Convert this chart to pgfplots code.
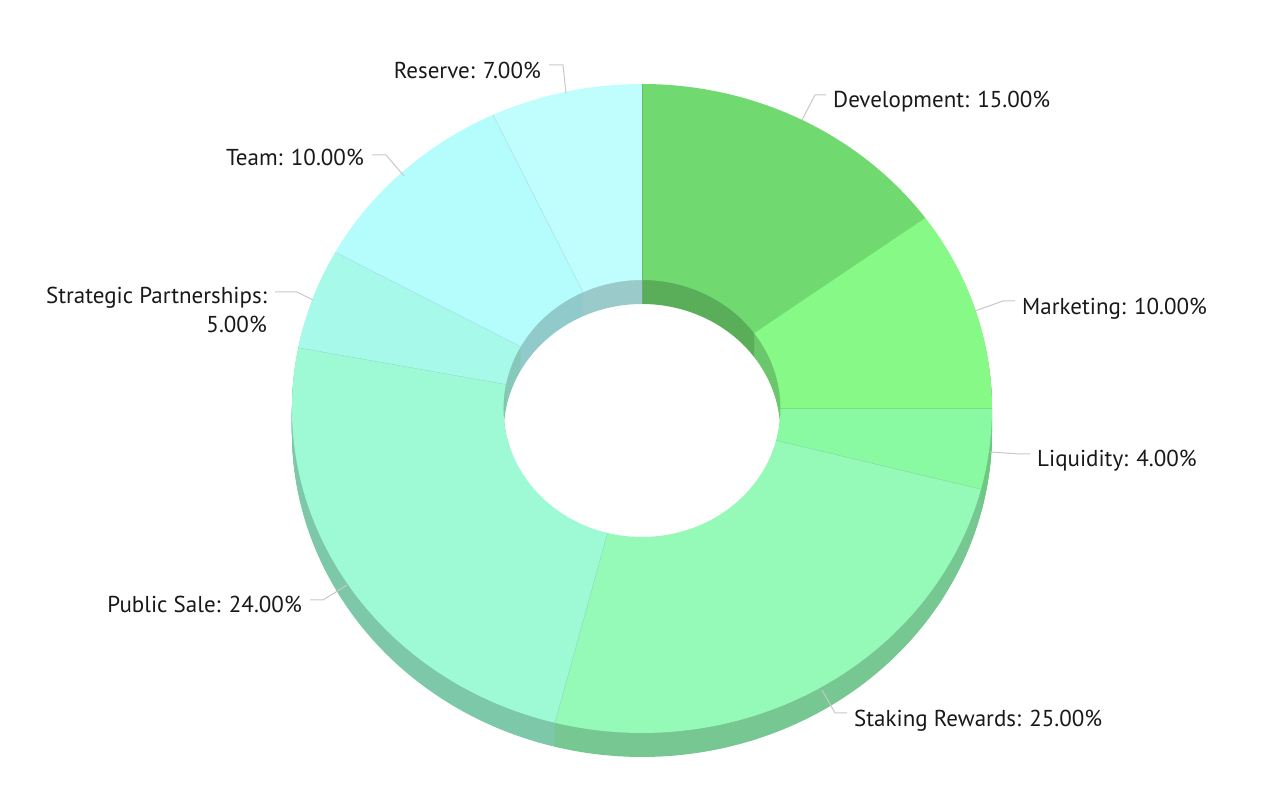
\documentclass[border=0pt]{standalone}
\usepackage{pgfplots}
\usepackage{pgfplotstable}
\pgfplotsset{compat=1.18}
\usepackage{fontspec}
\setmainfont{PT Sans}

% token allocation, percent of supply (clockwise from 12 o'clock)
\pgfplotstableread{
share
15
10
4
25
24
5
10
7
}\sharetable

\definecolor{s0}{RGB}{112,217,112}
\definecolor{s1}{RGB}{134,249,134}
\definecolor{s2}{RGB}{138,250,162}
\definecolor{s3}{RGB}{149,249,183}
\definecolor{s4}{RGB}{158,250,213}
\definecolor{s5}{RGB}{167,250,233}
\definecolor{s6}{RGB}{181,253,253}
\definecolor{s7}{RGB}{192,253,253}
\definecolor{lead}{RGB}{200,200,200}
\definecolor{txt}{RGB}{25,25,25}

% one ring segment, #1 = index, #2 = downward shift (pt), #3 = fill colour
\newcommand\ringseg[3]{%
  \edef\sa{\csname sa#1\endcsname}\edef\sb{\csname sb#1\endcsname}%
  \begin{scope}[shift={(axis cs:642,-408.5)}, yshift=-#2pt]
    \fill[#3] (\sa:350pt and 324.5pt)
      arc[start angle=\sa, end angle=\sb, x radius=350pt, y radius=324.5pt]
      -- (\sb:138.5pt and 128.5pt)
      arc[start angle=\sb, end angle=\sa, x radius=138.5pt, y radius=128.5pt]
      -- cycle;
  \end{scope}}

\begin{document}
\begin{tikzpicture}
\begin{axis}[
    width=1264pt, height=802pt, scale only axis,
    xmin=0, xmax=1264, ymin=-802, ymax=0,
    hide axis, clip=false,
]
\pgfplotsextra{
  \path (axis cs:0,0) rectangle (axis cs:1264,-802);
  % start and end angle of every slice
  \gdef\cum{0}
  \foreach \i in {0,...,7}{
    \pgfplotstablegetelem{\i}{share}\of\sharetable
    \let\v\pgfplotsretval
    \pgfmathsetmacro\a{90-3.6*\cum}
    \pgfmathsetmacro\b{90-3.6*(\cum+\v)}
    \expandafter\xdef\csname sa\i\endcsname{\a}
    \expandafter\xdef\csname sb\i\endcsname{\b}
    \pgfmathsetmacro\c{\cum+\v}
    \xdef\cum{\c}
  }
  % extruded body, deepest layer first
  \foreach \k in {24,23,...,1}{
    \foreach \i in {0,...,7}{\ringseg{\i}{\k}{s\i!80!black}}
  }
  % top face
  \foreach \i in {0,...,7}{\ringseg{\i}{0}{s\i}}
  \foreach \i in {0,...,7}{
    \edef\sa{\csname sa\i\endcsname}
    \begin{scope}[shift={(axis cs:642,-408.5)}]
      \draw[s\i!88!black, line width=0.4pt] (\sa:138.5pt and 128.5pt) -- (\sa:350pt and 324.5pt);
    \end{scope}
  }

  % leader lines
  \begin{scope}[lead, line width=1pt]
    \draw (axis cs:802,-120) -- (axis cs:815,-95) -- (axis cs:826,-95);
    \draw (axis cs:975,-311) -- (axis cs:1003,-301) -- (axis cs:1015,-301);
    \draw (axis cs:990,-452) -- (axis cs:1020,-454) -- (axis cs:1030,-454);
    \draw (axis cs:822,-690) -- (axis cs:835,-713) -- (axis cs:847,-713);
    \draw (axis cs:347,-585) -- (axis cs:323,-600) -- (axis cs:310,-600);
    \draw (axis cs:313,-300) -- (axis cs:297,-292) -- (axis cs:275,-292);
    \draw (axis cs:404,-176) -- (axis cs:386,-155) -- (axis cs:372,-155);
    \draw (axis cs:566,-93) -- (axis cs:563,-65) -- (axis cs:549,-65);
  \end{scope}

  % labels
  \begin{scope}[every node/.style={inner sep=0pt, text=txt, font=\fontsize{23}{27}\selectfont}]
    \node[anchor=base west] at (axis cs:833,-108) {Development: 15.00\%};
    \node[anchor=base west] at (axis cs:1022,-315) {Marketing: 10.00\%};
    \node[anchor=base west] at (axis cs:1037,-467) {Liquidity: 4.00\%};
    \node[anchor=base west] at (axis cs:854,-727) {Staking Rewards: 25.00\%};
    \node[anchor=base east] at (axis cs:302,-613) {Public Sale: 24.00\%};
    \node[anchor=base east] at (axis cs:267,-304) {Strategic Partnerships:};
    \node[anchor=base east] at (axis cs:267,-333) {5.00\%};
    \node[anchor=base east] at (axis cs:364,-166) {Team: 10.00\%};
    \node[anchor=base east] at (axis cs:541,-79) {Reserve: 7.00\%};
  \end{scope}
}
\end{axis}
\end{tikzpicture}
\end{document}
